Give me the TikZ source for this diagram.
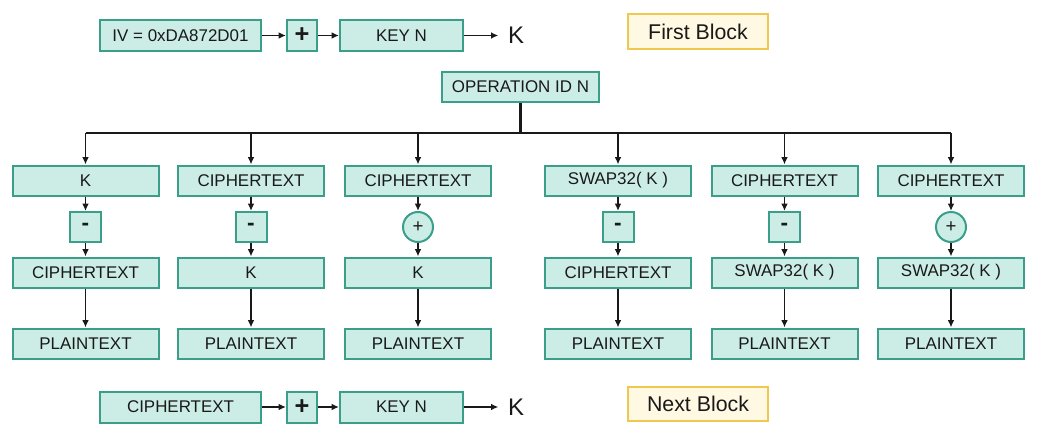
\documentclass[tikz,border=0pt]{standalone}
\usepackage{fontspec}
\setmainfont{Liberation Sans}
\usetikzlibrary{arrows.meta}
\definecolor{boxfill}{RGB}{204,237,230}
\definecolor{boxline}{RGB}{58,158,138}
\definecolor{tagfill}{RGB}{255,249,228}
\definecolor{tagline}{RGB}{240,200,80}
\definecolor{ink}{RGB}{25,25,25}
\tikzset{
  blk/.style={draw=boxline,fill=boxfill,line width=1.5pt,inner sep=0pt,
    minimum width=109.5pt,minimum height=22.5pt,text=ink,
    font=\fontsize{12.7}{14}\selectfont},
  opminus/.style={blk,minimum width=23.25pt,minimum height=22.5pt,
    font=\fontsize{17}{18}\selectfont\bfseries},
  opplus/.style={circle,draw=boxline,fill=boxfill,line width=1.5pt,inner sep=0pt,
    minimum size=22.5pt,text=ink,font=\fontsize{14}{15}\selectfont},
  addbox/.style={blk,minimum width=22.5pt,minimum height=23.25pt,
    font=\fontsize{19}{20}\selectfont\bfseries},
  tag/.style={draw=tagline,fill=tagfill,line width=1.5pt,inner sep=0pt,
    minimum width=105pt,minimum height=26pt,text=ink,
    font=\fontsize{16}{18}\selectfont},
  klabel/.style={text=ink,font=\fontsize{18}{19}\selectfont,inner sep=7pt},
  arr/.style={-{Latex[length=5.5pt,width=5pt]},line width=1.2pt,draw=ink},
}
\begin{document}
\begin{tikzpicture}[x=0.75pt,y=-0.75pt]
\useasboundingbox (0,0) rectangle (1039,446);
% first block
\node[blk,minimum width=120.75pt,minimum height=23.25pt] (iv) at (180.5,35.5) {IV = 0xDA872D01};
\node[addbox] (add1) at (302,35.5) {+};
\node[blk,minimum width=92.25pt,minimum height=23.25pt] (key1) at (401.5,35.5) {KEY N};
\node[klabel] (k1) at (516,35.5) {K};
\node[tag] (first) at (698,31.5) {First Block};
\draw[arr] (iv) -- (add1);
\draw[arr] (add1) -- (key1);
\draw[arr] (key1) -- (k1);
% operation id and bus
\node[blk,minimum width=117.75pt] (opid) at (520.5,87) {OPERATION ID N};
\coordinate (bus) at (520.5,133);
\draw[line width=2pt,draw=ink] (opid) -- (bus);
% six cases
\foreach \i/\x/\top/\op/\sym/\mid in {
  1/85.5/K/opminus/-/CIPHERTEXT,
  2/251/CIPHERTEXT/opminus/-/K,
  3/418/CIPHERTEXT/opplus/+/K,
  4/618/SWAP32( K )/opminus/-/CIPHERTEXT,
  5/784.5/CIPHERTEXT/opminus/-/SWAP32( K ),
  6/951/CIPHERTEXT/opplus/+/SWAP32( K )}{
  \node[blk] (top\i) at (\x,180.5) {\top};
  \node[\op] (op\i) at (\x,227) {\sym};
  \node[blk] (mid\i) at (\x,272.5) {\mid};
  \node[blk] (pt\i) at (\x,343.5) {PLAINTEXT};
  \draw[arr] (top\i |- bus) -- (top\i);
  \draw[arr] (top\i) -- (op\i);
  \draw[arr] (op\i) -- (mid\i);
  \draw[arr] (mid\i) -- (pt\i);
}
\draw[line width=1.5pt,draw=ink] (top1 |- bus) -- (top6 |- bus);
% next block
\node[blk,minimum width=120.75pt,minimum height=23.25pt] (ct) at (180.5,407) {CIPHERTEXT};
\node[addbox] (add2) at (302,407) {+};
\node[blk,minimum width=92.25pt,minimum height=23.25pt] (key2) at (401.5,407) {KEY N};
\node[klabel] (k2) at (516,407) {K};
\node[tag] (next) at (698,404) {Next Block};
\draw[arr] (ct) -- (add2);
\draw[arr] (add2) -- (key2);
\draw[arr] (key2) -- (k2);
\end{tikzpicture}
\end{document}
